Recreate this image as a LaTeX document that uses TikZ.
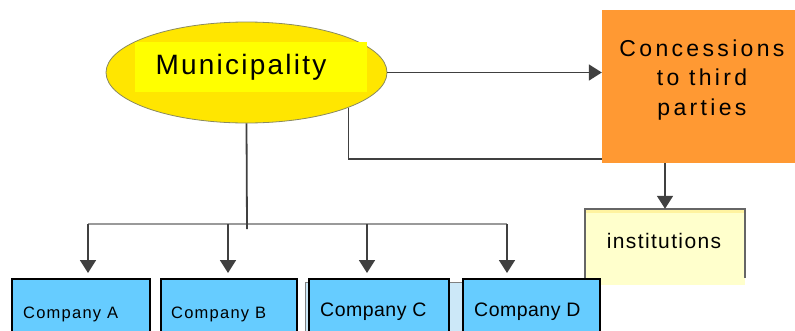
\documentclass[tikz,border=0pt]{standalone}
\usepackage{fontspec}
\setmainfont{Liberation Sans}
\usetikzlibrary{shapes.geometric,arrows.meta}
\definecolor{ellfill}{HTML}{FFE600}
\definecolor{ellrect}{HTML}{FFFF00}
\definecolor{ellline}{HTML}{8A8A60}
\definecolor{concfill}{HTML}{FF9933}
\definecolor{instfill}{HTML}{FFFFCC}
\definecolor{instband}{HTML}{FFF3A0}
\definecolor{compfill}{HTML}{66CCFF}
\definecolor{backfill}{HTML}{CCE8F8}
\definecolor{arrowgray}{HTML}{404040}
\definecolor{busgray}{HTML}{9A9A9A}
\begin{document}
\begin{tikzpicture}[x=1pt,y=-1pt,
  conn/.style={draw=arrowgray,line width=1.8pt},
  arr/.style={conn,-{Triangle[width=16pt,length=13pt]}},
  bus/.style={draw=busgray,line width=1.6pt},
  compbox/.style={draw=black,line width=2pt,fill=compfill,inner sep=0pt,
    minimum height=62pt,align=left},
  small/.style={font=\fontsize{16.5pt}{19pt}\selectfont\addfontfeature{LetterSpace=7.5}},
  big/.style={font=\fontsize{19.5pt}{22pt}\selectfont\addfontfeature{LetterSpace=2.5}}
]
\useasboundingbox (0,0) rectangle (795,330);

% Municipality
\node[ellipse,draw=ellline,line width=0.8pt,fill=ellfill,minimum width=281pt,minimum height=101pt,inner sep=0pt] (muni) at (246.5,72.5) {};
\node[fill=ellrect,minimum width=232pt,minimum height=50pt,inner sep=0pt] (mrect) at (251,67) {};
\node[font=\fontsize{28pt}{32pt}\selectfont\addfontfeature{LetterSpace=8},inner sep=0pt] (mtext) at (241,67) {Municipality};

% Concessions
\node[fill=concfill,minimum width=200pt,minimum height=153pt,inner sep=0pt] (conc) at (702,86.5) {};
\node[align=center,font=\fontsize{23pt}{29.5pt}\selectfont\addfontfeature{LetterSpace=14.5},inner sep=0pt] (ctext) at (702,80) {Concessions\\to third\\parties};

% institutions
\node[fill=instfill,minimum width=160pt,minimum height=76pt,inner sep=0pt] (inst) at (665,247) {};
\node[fill=instband,minimum width=160pt,minimum height=4pt,inner sep=0pt,anchor=north] (iband) at (inst.north) {};
\draw[draw=black!60,line width=1.5pt] ([yshift=5pt]inst.south west) -- (inst.north west) -- (inst.north east) -- ([yshift=7pt]inst.south east);
\node[font=\fontsize{21pt}{24pt}\selectfont\addfontfeature{LetterSpace=6.5},inner sep=0pt] (itext) at (664,241) {institutions};

% connectors from municipality
\draw[arr] (muni.east) -- (muni.east -| conc.west);
\draw[conn] (muni.-19.4) |- ([yshift=4pt]conc.south west);
\draw[arr] (inst.north |- conc.south) -- (inst.north);

% bus
\coordinate (bA) at (88,224);
\coordinate (bB) at (228,224);
\coordinate (bC) at (367,224);
\coordinate (bD) at (507,224);
\coordinate (bjoin) at (247,229);
\draw[bus] (bA) -- (bD);
\draw[conn] (muni.south) -- (bjoin);

% companies
\node[draw=black!50,line width=1pt,fill=backfill,minimum width=165pt,minimum height=64pt,inner sep=0pt] (cback) at (388,314) {};
\node[compbox,minimum width=138pt] (compA) at (81,310) {};
\node[small,anchor=west,inner sep=0pt] (tA) at (23,314) {Company A};
\node[compbox,minimum width=136pt] (compB) at (229,310) {};
\node[small,anchor=west,inner sep=0pt] (tB) at (171,314) {Company B};
\node[compbox,minimum width=140pt] (compC) at (379,310) {};
\node[big,anchor=west,inner sep=0pt] (tC) at (320,312) {Company C};
\node[compbox,minimum width=137pt] (compD) at (531.5,310) {};
\node[big,anchor=west,inner sep=0pt] (tD) at (474,312) {Company D};

\draw[arr,shorten >=5pt] (bA) -- (bA |- compA.north);
\draw[arr,shorten >=5pt] (bB) -- (bB |- compB.north);
\draw[arr,shorten >=5pt] (bC) -- (bC |- compC.north);
\draw[arr,shorten >=5pt] (bD) -- (bD |- compD.north);
\end{tikzpicture}
\end{document}
